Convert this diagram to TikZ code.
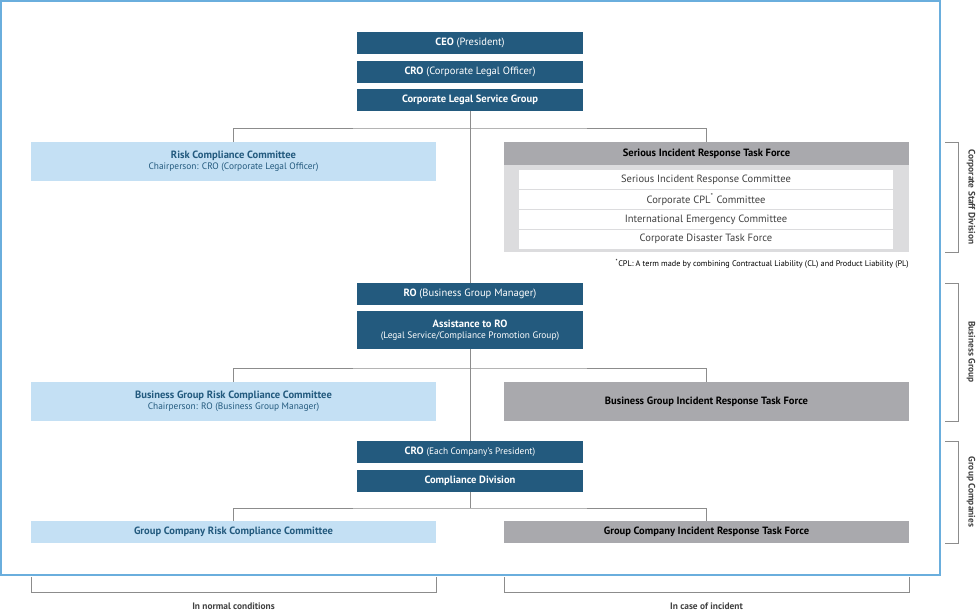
\documentclass[tikz,border=0pt]{standalone}
\usepackage{fontspec}
\setmainfont{PT Sans}
\usetikzlibrary{positioning}
\definecolor{darkblue}{HTML}{235A7E}
\definecolor{lightblue}{HTML}{C4E0F4}
\definecolor{framblue}{HTML}{6AAEDD}
\definecolor{darkgray}{HTML}{A9A9AD}
\definecolor{lightgray}{HTML}{DCDCDE}
\definecolor{linegray}{HTML}{8C8C8C}
\tikzset{
  head/.style={fill=darkblue, text=white, minimum width=6.75cm, minimum height=0.66cm, inner sep=0pt, font=\small},
  normal/.style={fill=lightblue, text=darkblue, minimum width=12.15cm, minimum height=1.17cm, inner sep=0pt, align=center, font=\small},
  incident/.style={fill=darkgray, text=black, minimum width=12.15cm, minimum height=1.17cm, inner sep=0pt, font=\small\bfseries},
  member/.style={fill=white, text=black!75, minimum width=11.2cm, minimum height=0.57cm, inner sep=0pt, font=\small},
  conn/.style={linegray, line width=0.8pt},
  brace/.style={linegray, line width=0.6pt},
}
\begin{document}
\begin{tikzpicture}[x=0.03cm,y=-0.03cm]
\useasboundingbox (0,0) rectangle (980,613);
% frame
\draw[framblue, line width=1.5pt] (1,1) rectangle (940,575);
% corporate staff
\node[head] (ceo) at (470,43) {\textbf{CEO} (President)};
\node[head] (cro) at (470,72) {\textbf{CRO} (Corporate Legal Officer)};
\node[head] (clsg) at (470,100) {\textbf{Corporate Legal Service Group}};
\node[normal] (rcc) at (233.5,161.5) {\textbf{Risk Compliance Committee}\\[-2pt]{\footnotesize Chairperson: CRO (Corporate Legal Officer)}};
\fill[lightgray] (504,165) rectangle (909,252);
\node[incident, minimum height=0.69cm] (sirtf) at (706.5,153.5) {Serious Incident Response Task Force};
\node[member] (m1) at (706,179.5) {Serious Incident Response Committee};
\node[member] (m2) at (706,199.5) {Corporate CPL\textsuperscript{*} Committee};
\node[member] (m3) at (706,219.5) {International Emergency Committee};
\node[member] (m4) at (706,239) {Corporate Disaster Task Force};
\node[anchor=east, font=\scriptsize, inner sep=0pt] (note) at (909,264) {\textsuperscript{*}CPL: A term made by combining Contractual Liability (CL) and Product Liability (PL)};
% business group
\node[head] (ro) at (470,294) {\textbf{RO} (Business Group Manager)};
\node[head, minimum height=1.14cm, align=center] (asst) at (470,330) {\textbf{Assistance to RO}\\[-2pt]{\footnotesize(Legal Service/Compliance Promotion Group)}};
\node[normal] (bgrcc) at (233.5,401.5) {\textbf{Business Group Risk Compliance Committee}\\[-2pt]{\footnotesize Chairperson: RO (Business Group Manager)}};
\node[incident] (bgirtf) at (706.5,401.5) {Business Group Incident Response Task Force};
% group companies
\node[head] (croe) at (470,452) {\textbf{CRO} {\footnotesize(Each Company's President)}};
\node[head] (cdiv) at (470,481) {\textbf{Compliance Division}};
\node[normal, minimum height=0.66cm] (gcrcc) at (233.5,532) {\textbf{Group Company Risk Compliance Committee}};
\node[incident, minimum height=0.66cm] (gcirtf) at (706.5,532) {Group Company Incident Response Task Force};
% connectors
\draw[conn] (clsg.south) -- (ro.north);
\draw[conn] (rcc.north) |- (470,128) -| (sirtf.north);
\draw[conn] (asst.south) -- (croe.north);
\draw[conn] (bgrcc.north) |- (470,368) -| (bgirtf.north);
\draw[conn] (cdiv.south) -- (470,508);
\draw[conn] (gcrcc.north) |- (470,508) -| (gcirtf.north);
% brackets
\draw[brace] (31,577) |- (436,592) -- (436,577);
\draw[brace] (504,577) |- (909,592) -- (909,577);
\node[font=\footnotesize\bfseries, text=black!75] (lnorm) at (233.5,606) {In normal conditions};
\node[font=\footnotesize\bfseries, text=black!75] (linc) at (706.5,606) {In case of incident};
\foreach \a/\b/\t in {142/252/Corporate Staff Division, 283/421/Business Group, 441/543/Group Companies}{
  \draw[brace] (945,\a) -| (958,\b) -- (945,\b);
  \node[rotate=-90, font=\footnotesize\bfseries, text=black!75] at (971,{(\a+\b)/2}) {\t};
}
\end{tikzpicture}
\end{document}
